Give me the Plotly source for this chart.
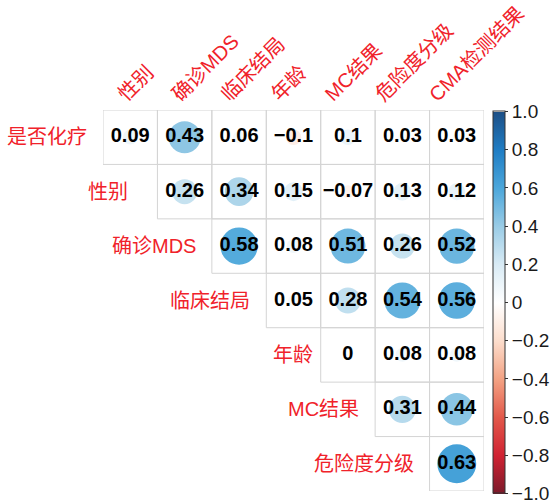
import plotly.graph_objects as go

# Variables (rows of the upper triangle, columns of the upper triangle)
row_labels = ["是否化疗", "性别", "确诊MDS", "临床结局", "年龄", "MC结果", "危险度分级"]
col_labels = ["性别", "确诊MDS", "临床结局", "年龄", "MC结果", "危险度分级", "CMA检测结果"]

# Correlation coefficients, one list per row (upper triangle, diagonal removed)
r_chemo = [0.09, 0.43, 0.06, -0.1, 0.1, 0.03, 0.03]
r_sex = [0.26, 0.34, 0.15, -0.07, 0.13, 0.12]
r_mds = [0.58, 0.08, 0.51, 0.26, 0.52]
r_outcome = [0.05, 0.28, 0.54, 0.56]
r_age = [0, 0.08, 0.08]
r_mc = [0.31, 0.44]
r_risk = [0.63]
rows_values = [r_chemo, r_sex, r_mds, r_outcome, r_age, r_mc, r_risk]

colorbar_ticks = [1.0, 0.8, 0.6, 0.4, 0.2, 0, -0.2, -0.4, -0.6, -0.8, -1.0]
colorbar_ticktext = ["1.0", "0.8", "0.6", "0.4", "0.2", "0", "\u22120.2", "\u22120.4",
                     "\u22120.6", "\u22120.8", "\u22121.0"]

# diverging red-white-blue palette, from -1 to 1
palette = ["#7A1A2A", "#D02232", "#E2584A", "#F3A283", "#FCDDCC", "#FFFFFF",
           "#D9EBF5", "#9ACCE6", "#4CA7DB", "#1F7DC4", "#1C4F86"]
colorscale = [[i / (len(palette) - 1), c] for i, c in enumerate(palette)]

# small per-label nudges (pixels) for the row and column captions
row_label_nudge = [0, -13, 0, 0, 8, 0, 0]
col_label_nudge = [8, 7, 2, -2, -3, -7, -8]


def hex_rgb(h):
    return tuple(int(h[k:k + 2], 16) for k in (1, 3, 5))


def corr_color(v):
    t = (v + 1) / 2 * (len(palette) - 1)
    i = min(int(t), len(palette) - 2)
    f = t - i
    a, b = hex_rgb(palette[i]), hex_rgb(palette[i + 1])
    return "rgb(%d,%d,%d)" % tuple(round(a[k] + (b[k] - a[k]) * f) for k in range(3))


def fmt(v):
    return f"{v:g}".replace("-", "\u2212")


LABEL_FONT = dict(family="Liberation Sans, Noto Sans CJK SC", size=20, color="#F0222A")
W, H = 551, 501
x_left, x_right = 103, 484
y_top, y_bottom = 110, 491

shapes = []
annotations = []
tx, ty, tt = [], [], []
for i, vals in enumerate(rows_values):
    for k, v in enumerate(vals):
        j = i + k
        # cell border
        shapes.append(dict(type="rect", xref="x", yref="y", x0=j - 0.5, x1=j + 0.5,
                           y0=i - 0.5, y1=i + 0.5, line=dict(color="#D4D4D4", width=1),
                           layer="below"))
        # circle: area proportional to |r|
        rad = 0.9 * abs(v) ** 0.5 / 2
        if rad > 0:
            col = corr_color(v)
            shapes.append(dict(type="circle", xref="x", yref="y", x0=j - rad, x1=j + rad,
                               y0=i - rad, y1=i + rad, fillcolor=col,
                               line=dict(color=col, width=0), layer="below"))
        tx.append(j)
        ty.append(i)
        tt.append(fmt(v))
    # row label to the left of the row's first cell
    annotations.append(dict(x=i - 0.5, y=i, xref="x", yref="y", text=row_labels[i],
                            showarrow=False, xanchor="right", yanchor="middle",
                            xshift=-14 + row_label_nudge[i], font=LABEL_FONT))

# column labels, rotated 45 degrees above each column
for j, name in enumerate(col_labels):
    annotations.append(dict(x=j, y=-0.5, xref="x", yref="y", text=name, showarrow=False,
                            textangle=-45, xanchor="left", yanchor="bottom",
                            xshift=-27 + col_label_nudge[j], yshift=2, font=LABEL_FONT))

fig = go.Figure()
fig.add_trace(go.Scatter(
    x=tx, y=ty, text=tt, mode="text", hoverinfo="skip", cliponaxis=False,
    textfont=dict(family="Liberation Sans", size=20, color="black", weight="bold"),
    showlegend=False,
))
# colour bar for the correlation scale
fig.add_trace(go.Scatter(
    x=[0, 0], y=[6, 6], mode="markers", hoverinfo="skip", showlegend=False,
    marker=dict(size=0.1, opacity=0, color=[-1, 1], cmin=-1, cmax=1,
                colorscale=colorscale, showscale=True,
                colorbar=dict(x=493 / W, xanchor="left", xpad=0, ypad=0,
                              y=1 - 302.5 / H, yanchor="middle",
                              len=382, lenmode="pixels", thickness=12,
                              outlinewidth=1, outlinecolor="#333333",
                              tickvals=colorbar_ticks, ticktext=colorbar_ticktext,
                              ticks="outside", ticklen=3, tickcolor="#333333",
                              ticklabeloverflow="allow",
                              tickfont=dict(family="Liberation Sans", size=19,
                                            color="#1a1a1a"))),
))

fig.update_layout(
    width=W, height=H, margin=dict(l=0, r=0, t=0, b=0),
    paper_bgcolor="white", plot_bgcolor="white",
    shapes=shapes, annotations=annotations,
    xaxis=dict(domain=[x_left / W, x_right / W], range=[-0.5, 6.5], visible=False,
               fixedrange=True),
    yaxis=dict(domain=[1 - y_bottom / H, 1 - y_top / H], range=[6.5, -0.5], visible=False,
               fixedrange=True),
)

fig.write_html("out.html")
